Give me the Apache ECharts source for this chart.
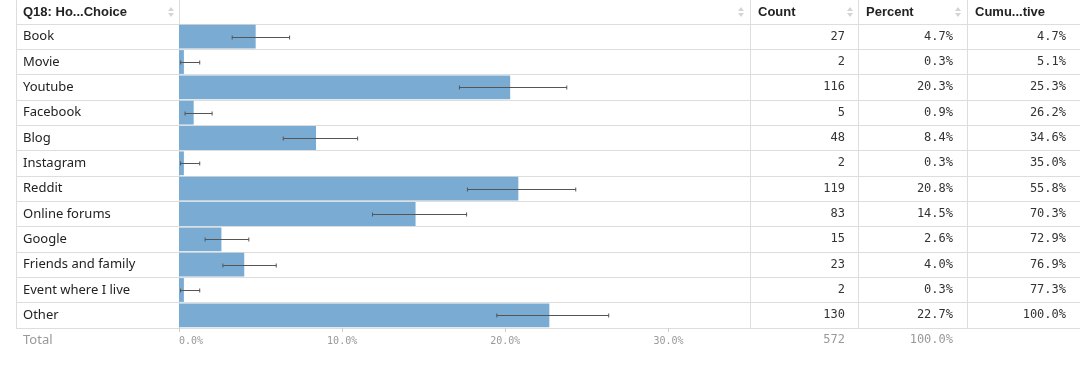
<!DOCTYPE html>
<html>
<head>
<meta charset="utf-8">
<script src="https://cdn.jsdelivr.net/npm/echarts@6/dist/echarts.min.js"></script>
<style>
  html, body { margin: 0; padding: 0; background: #fff; }
  #chart { width: 1080px; height: 378px; }
</style>
</head>
<body>
<div id="chart"></div>
<script>
var categories = ['Book', 'Movie', 'Youtube', 'Facebook', 'Blog', 'Instagram', 'Reddit',
  'Online forums', 'Google', 'Friends and family', 'Event where I live', 'Other'];
var counts = [27, 2, 116, 5, 48, 2, 119, 83, 15, 23, 2, 130];
var percents = [4.7, 0.3, 20.3, 0.9, 8.4, 0.3, 20.8, 14.5, 2.6, 4.0, 0.3, 22.7];
var cumulative = [4.7, 5.1, 25.3, 26.2, 34.6, 35.0, 55.8, 70.3, 72.9, 76.9, 77.3, 100.0];
// error bar ends (percent)
var ciLow = [3.26, 0.10, 17.19, 0.37, 6.39, 0.10, 17.68, 11.86, 1.60, 2.69, 0.10, 19.48];
var ciHigh = [6.78, 1.27, 23.77, 2.03, 10.95, 1.27, 24.32, 17.63, 4.28, 5.96, 1.27, 26.34];
var totalCount = 572;
var totalPercent = 100.0;
var headers = ['Q18: Ho...Choice', 'Count', 'Percent', 'Cumu...tive'];

var sans = '"Noto Sans", "Open Sans", sans-serif';
var mono = '"DejaVu Sans Mono", monospace';
var headFont = 'bold 13px "Liberation Sans", Arial, sans-serif';
var lineColor = '#dddddd';

function pct(v) { return v.toFixed(1) + '%'; }

var chart = echarts.init(document.getElementById('chart'));

// sort arrows in the header
function sortIcon(x) {
  return {
    type: 'group',
    children: [
      { type: 'polygon', shape: { points: [[x - 3, 11], [x + 3, 11], [x, 7]] }, style: { fill: '#d4d4d4' } },
      { type: 'polygon', shape: { points: [[x - 3, 13], [x + 3, 13], [x, 17]] }, style: { fill: '#d4d4d4' } }
    ]
  };
}
function vline(x) {
  return { type: 'line', shape: { x1: x + 0.5, y1: 0, x2: x + 0.5, y2: 328 }, style: { stroke: lineColor, lineWidth: 1 } };
}
function headText(x, txt) {
  return { type: 'text', x: x, y: 12, style: { text: txt, font: headFont, fill: '#222', verticalAlign: 'middle' } };
}

var graphics = [
  vline(16), vline(179), vline(750), vline(858), vline(967),
  headText(23, headers[0]), headText(758, headers[1]), headText(866, headers[2]), headText(975, headers[3]),
  sortIcon(171), sortIcon(741), sortIcon(850), sortIcon(958),
  { type: 'text', x: 23, y: 340, style: { text: 'Total', font: '13px ' + sans, fill: '#999', verticalAlign: 'middle' } },
  { type: 'text', x: 845, y: 340, style: { text: String(totalCount), font: '12px ' + mono, fill: '#999', align: 'right', verticalAlign: 'middle' } },
  { type: 'text', x: 953, y: 340, style: { text: pct(totalPercent), font: '12px ' + mono, fill: '#999', align: 'right', verticalAlign: 'middle' } }
];

var numLabel = { fontFamily: mono, fontSize: 12, color: '#333', align: 'right', padding: [2, 0, 0, 0] };

var option = {
  animation: false,
  backgroundColor: '#fff',
  graphic: graphics,
  grid: [
    { left: 16, right: 0, top: 24, height: 304 },
    { left: 179, width: 571, top: 24, height: 304 }
  ],
  xAxis: [
    { gridIndex: 0, type: 'value', show: false },
    {
      gridIndex: 1, type: 'value', min: 0, max: 35, interval: 10,
      axisLine: { show: false },
      axisTick: { show: true, length: 4, lineStyle: { color: '#cccccc' } },
      splitLine: { show: false },
      axisLabel: {
        margin: 8, fontFamily: mono, fontSize: 10, color: '#999',
        showMaxLabel: false, alignMinLabel: 'left',
        formatter: function (v) { return pct(v); }
      }
    }
  ],
  yAxis: [
    {
      gridIndex: 0, type: 'category', data: categories, inverse: true,
      axisLine: { show: false }, axisTick: { show: false }, axisLabel: { show: false },
      splitLine: { show: true, interval: 0, lineStyle: { color: lineColor } }
    },
    {
      gridIndex: 1, type: 'category', data: categories, inverse: true, position: 'left',
      axisLine: { show: false }, axisTick: { show: false },
      axisLabel: { align: 'left', margin: 156, fontFamily: sans, fontSize: 13, color: '#222', padding: [3, 0, 0, 0] }
    },
    {
      gridIndex: 1, type: 'category', data: categories, inverse: true, position: 'right', offset: 0,
      axisLine: { show: false }, axisTick: { show: false },
      axisLabel: Object.assign({ margin: 95, formatter: function (v, i) { return String(counts[i]); } }, numLabel)
    },
    {
      gridIndex: 1, type: 'category', data: categories, inverse: true, position: 'right', offset: 108,
      axisLine: { show: false }, axisTick: { show: false },
      axisLabel: Object.assign({ margin: 95, formatter: function (v, i) { return pct(percents[i]); } }, numLabel)
    },
    {
      gridIndex: 1, type: 'category', data: categories, inverse: true, position: 'right', offset: 217,
      axisLine: { show: false }, axisTick: { show: false },
      axisLabel: Object.assign({ margin: 99, formatter: function (v, i) { return pct(cumulative[i]); } }, numLabel)
    }
  ],
  series: [
    {
      type: 'bar', xAxisIndex: 1, yAxisIndex: 1,
      data: percents, barCategoryGap: '6%',
      itemStyle: { color: '#7aacd3' },
      z: 2
    },
    {
      type: 'custom', xAxisIndex: 1, yAxisIndex: 1,
      data: categories.map(function (c, i) { return [ciLow[i], ciHigh[i], i]; }),
      encode: { x: [0, 1], y: 2 },
      renderItem: function (params, api) {
        var a = api.coord([api.value(0), api.value(2)]);
        var b = api.coord([api.value(1), api.value(2)]);
        var y = Math.round(a[1]) + 0.5;
        var st = { stroke: '#555', lineWidth: 1 };
        return {
          type: 'group',
          children: [
            { type: 'line', shape: { x1: a[0], y1: y, x2: b[0], y2: y }, style: st },
            { type: 'line', shape: { x1: a[0], y1: y - 2, x2: a[0], y2: y + 2 }, style: st },
            { type: 'line', shape: { x1: b[0], y1: y - 2, x2: b[0], y2: y + 2 }, style: st }
          ]
        };
      },
      z: 3
    }
  ]
};
chart.setOption(option);
</script>
</body>
</html>
